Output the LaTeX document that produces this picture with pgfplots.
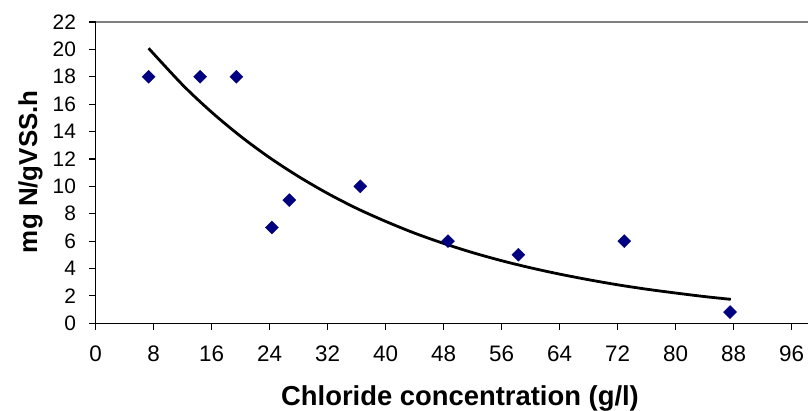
\documentclass[border=0pt]{standalone}
\usepackage{fontspec}
\setmainfont{Liberation Sans}
\usepackage{pgfplots}
\pgfplotsset{compat=1.18}
\definecolor{ptnavy}{RGB}{0,0,128}
\definecolor{boxgray}{RGB}{128,128,128}

\begin{document}
\begin{tikzpicture}
  \useasboundingbox (0bp,0bp) rectangle (808bp,411bp);
  \begin{axis}[
    at={(95.7bp,87.7bp)}, anchor=south west,
    scale only axis,
    width=712.3bp, height=301.3bp,
    xmin=0, xmax=98.25, ymin=0, ymax=22,
    axis x line*=bottom, axis y line*=left,
    axis line style={-, black, line width=1.1bp},
    xtick={0,8,...,96}, ytick={0,2,...,22},
    tick align=outside, major tick length=6.5bp,
    tick style={black, line width=1.1bp},
    /pgf/number format/assume math mode=true,
    xticklabel style={font=\fontsize{22.5}{22.5}\selectfont, inner sep=0pt, anchor=north, yshift=-15.5bp},
    yticklabel style={font=\fontsize{21}{21}\selectfont, inner sep=0pt, anchor=east, xshift=-13bp},
  ]
    \draw[boxgray, line width=1.6bp] (rel axis cs:0,1) -- (rel axis cs:1,1);
    % trend line
    \addplot[black, line width=2.8bp, smooth, no marks] coordinates {
      (7.3,20.08) (12,17.40) (16,15.41) (20,13.65) (24,12.09) (28,10.71)
      (32,9.48) (36,8.39) (40,7.44) (44,6.58) (48,5.83) (52,5.16)
      (56,4.57) (60,4.05) (64,3.59) (68,3.18) (72,2.81) (76,2.49)
      (80,2.21) (84,1.95) (87.6,1.75)
    };
    \addplot[only marks, mark=square*, mark size=4.6bp,
      mark options={rotate=45, fill=ptnavy, draw=ptnavy}] coordinates {
      (7.3,18) (14.4,18) (19.4,18) (24.3,7) (26.7,9) (36.5,10)
      (48.6,6) (58.3,5) (72.9,6) (87.5,0.82)
    };
  \end{axis}
  \node[font=\bfseries\fontsize{27.5}{27.5}\selectfont, anchor=base] at (460bp,6bp)
    {Chloride concentration (g/l)};
  \node[font=\bfseries\fontsize{26}{26}\selectfont, anchor=base, rotate=90] at (37bp,239.3bp)
    {mg N/gVSS.h};
\end{tikzpicture}
\end{document}
